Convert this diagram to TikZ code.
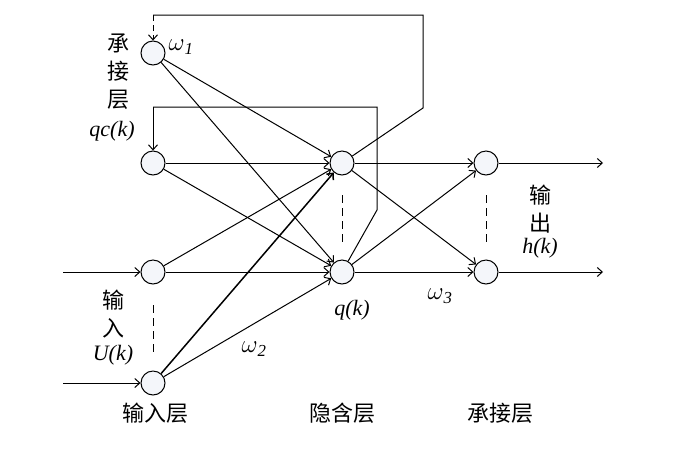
\documentclass[tikz,border=0pt]{standalone}
\usepackage{fontspec}
\setmainfont{Liberation Serif}
\newfontfamily\cjk{Noto Sans CJK SC}
\usetikzlibrary{arrows.meta}
\begin{document}
\begin{tikzpicture}[x=1pt,y=-1pt,
  neuron/.style={circle,draw,line width=1pt,fill={rgb,255:red,244;green,246;blue,250},minimum size=24pt,inner sep=0pt},
  conn/.style={line width=1pt,-{Straight Barb[length=5pt,width=9pt]}},
  plain/.style={line width=1pt},
  sep/.style={line width=1pt,dash pattern=on 8pt off 5pt},
  cn/.style={font=\fontsize{22}{28}\selectfont\cjk,inner sep=0pt,align=center},
  lt/.style={font=\fontsize{22}{24}\selectfont\itshape,inner sep=0pt},
  wt/.style={font=\fontsize{24}{24}\selectfont\itshape,inner sep=0pt}]
\useasboundingbox (0,0) rectangle (679,456);
% neurons
\node[neuron] (c1) at (153,53) {};
\node[neuron] (c2) at (153,163) {};
\node[neuron] (i1) at (153,272) {};
\node[neuron] (i2) at (153,383) {};
\node[neuron] (h1) at (342,163) {};
\node[neuron] (h2) at (342,272) {};
\node[neuron] (o1) at (486,163) {};
\node[neuron] (o2) at (486,272) {};
% coordinates
\coordinate (in1) at (63,272);
\coordinate (in2) at (63,383);
\coordinate (out1) at (603,163);
\coordinate (out2) at (603,272);
\coordinate (f1a) at (423,108);
\coordinate (f1b) at (423,15);
\coordinate (f1c) at (153,15);
\coordinate (f2a) at (377,210);
\coordinate (f2b) at (377,107);
\coordinate (f2c) at (153,107);
% input/output arrows
\draw[conn] (in1) -- (i1);
\draw[conn] (in2) -- (i2);
\draw[conn] (o1) -- (out1);
\draw[conn] (o2) -- (out2);
% to hidden
\draw[conn] (c1) -- (h1);
\draw[conn] (c1) -- (h2);
\draw[conn] (c2) -- (h1);
\draw[conn] (c2) -- (h2);
\draw[conn] (i1) -- (h1);
\draw[conn] (i1) -- (h2);
\draw[conn,line width=1.5pt] (i2) -- (h1);
\draw[conn] (i2) -- (h2);
% to output
\draw[conn] (h1) -- (o1);
\draw[conn] (h1) -- (o2);
\draw[conn] (h2) -- (o1);
\draw[conn] (h2) -- (o2);
% feedback
\draw[plain] (h1) -- (f1a) -- (f1b) -- (f1c);
\draw[conn,dash pattern=on 6pt off 4pt] (f1c) -- (c1);
\draw[plain] (h2) -- (f2a) -- (f2b) -- (f2c);
\draw[conn] (f2c) -- (c2);
% separators
\draw[sep] (153,305) -- (153,352);
\draw[sep] (342,195) -- (342,242);
\draw[sep] (486,195) -- (486,242);
% labels
\node[wt] (w1) at (181,47) {$\omega$\textsubscript{1}};
\node[wt] (w2) at (254,349) {$\omega$\textsubscript{2}};
\node[wt] (w3) at (440,296) {$\omega$\textsubscript{3}};
\node[cn] (l1) at (118,72) {承\\接\\层};
\node[lt] (qc) at (112,131) {qc(k)};
\node[cn] (l2) at (113,314) {输\\入};
\node[lt] (uk) at (113,355) {U(k)};
\node[cn] (l3) at (540,209) {输\\出};
\node[lt] (hk) at (540,248) {h(k)};
\node[lt] (qk) at (352,310) {q(k)};
\node[cn] (l4) at (155,413) {输入层};
\node[cn] (l5) at (342,413) {隐含层};
\node[cn] (l6) at (500,413) {承接层};
\end{tikzpicture}
\end{document}
